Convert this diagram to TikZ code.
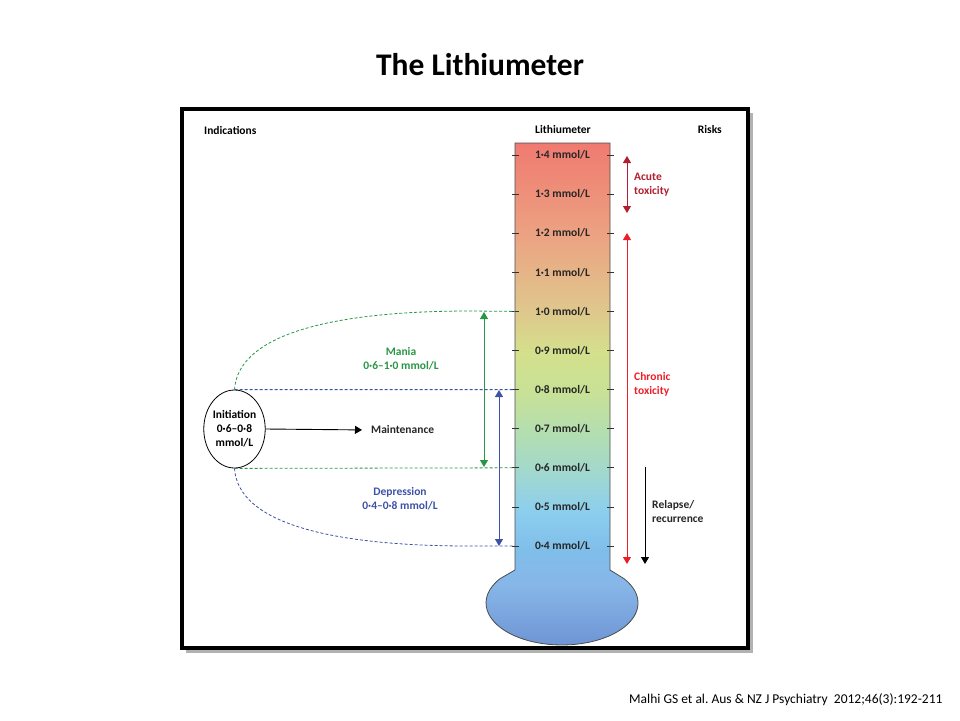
\documentclass[tikz,border=0pt]{standalone}
\usepackage{fontspec}
\setmainfont{Carlito}
\usetikzlibrary{arrows.meta,shapes.geometric}

\definecolor{bulbbot}{RGB}{108,146,210}
\definecolor{bulbtop}{RGB}{135,182,232}
\definecolor{lvA}{RGB}{128,190,234}
\definecolor{lvB}{RGB}{140,206,238}
\definecolor{lvC}{RGB}{162,216,205}
\definecolor{lvD}{RGB}{180,222,175}
\definecolor{lvE}{RGB}{200,225,150}
\definecolor{lvF}{RGB}{212,224,140}
\definecolor{lvG}{RGB}{222,200,140}
\definecolor{lvH}{RGB}{236,162,130}
\definecolor{lvI}{RGB}{240,122,112}
\definecolor{maniagreen}{RGB}{40,150,70}
\definecolor{deprblue}{RGB}{62,82,165}
\definecolor{acutered}{RGB}{178,30,45}
\definecolor{chronred}{RGB}{235,30,40}
\pgfdeclareverticalshading{lithshade}{100bp}{
  color(0bp)=(bulbbot); color(25bp)=(bulbbot); color(31.5bp)=(bulbtop);
  color(34.9bp)=(lvA); color(38.7bp)=(lvB); color(42.7bp)=(lvC);
  color(46.6bp)=(lvD); color(50.5bp)=(lvE); color(54.4bp)=(lvF);
  color(58.3bp)=(lvG); color(66bp)=(lvH); color(75bp)=(lvI); color(100bp)=(lvI)}

\begin{document}
\begin{tikzpicture}[x=1pt, y=-1pt,
  lab/.style={font=\fontsize{11.5}{14}\selectfont\bfseries, text=black!85, inner sep=1pt},
  head/.style={font=\fontsize{11.5}{14}\selectfont\bfseries, inner sep=1pt},
  dashgreen/.style={maniagreen, line width=0.8pt, dash pattern=on 3pt off 2pt},
  dashblue/.style={deprblue, line width=0.8pt, dash pattern=on 3pt off 2pt},
  span/.style={line width=0.9pt, {Triangle[length=7pt,width=8pt]}-{Triangle[length=7pt,width=8pt]}},
  down/.style={line width=0.9pt, -{Triangle[length=7pt,width=8pt]}}]
\useasboundingbox (0,0) rectangle (960,720);
% ---- slide title and source ----
\node[font=\fontsize{31.5}{36}\selectfont\bfseries] (title) at (480,65) {The Lithiumeter};
\node[font=\fontsize{13.5}{16}\selectfont, anchor=east] (cite) at (946,700)
  {Malhi GS et al.\ Aus \& NZ J Psychiatry\ \ 2012;46(3):192-211};
% ---- frame with shadow ----
\draw[black!30, line width=3pt] (751,113) |- (186,651);
\draw[line width=3.5pt] (182,109) rectangle (748,648);
% ---- column heads ----
\node[head, anchor=west] (hind) at (203,130) {Indications};
\node[head] (hlith) at (563,130) {Lithiumeter};
\node[head, anchor=east] (hrisk) at (723,130) {Risks};
% ---- the lithiumeter: tube + bulb ----
\path[shading=lithshade, draw=black!70, line width=0.8pt]
  (515,143) -- (515,570) -- (500,578.7)
  arc[start angle=215.3, end angle=-35.3, x radius=76, y radius=42]
  -- (610,570) -- (610,143) -- cycle;
\foreach \lv [count=\i from 0] in {1·4,1·3,1·2,1·1,1·0,0·9,0·8,0·7,0·6,0·5,0·4} {
  \node[lab] (v\i) at (562.5,155+39.1*\i) {\lv\ mmol/L};
  \coordinate (L\i) at (515,155+39.1*\i);
  \draw[black!80, line width=0.7pt] (512,155+39.1*\i) -- (519,155+39.1*\i);
  \draw[black!80, line width=0.7pt] (607,155+39.1*\i) -- (614,155+39.1*\i);
}
% ---- indications (left) ----
\node[ellipse, draw, line width=0.8pt, minimum width=61, minimum height=78, inner sep=0pt,
  align=center, font=\fontsize{11.5}{14}\selectfont\bfseries] (init) at (234.5,429)
  {Initiation\\0·6–0·8\\mmol/L};
\node[lab, anchor=west] (maint) at (370,430) {Maintenance};
\draw[down, shorten >=8pt] (init.east) -- (maint.west);
\draw[dashgreen] (init.north) .. controls (238,335) and (330,311) .. (470,311) -- (L4);
\draw[dashblue]  (init.north) -- (L6);
\draw[dashgreen] (init.south) -- (L8);
\draw[dashblue]  (init.south) .. controls (238,523) and (330,546) .. (470,546) -- (L10);
\coordinate (mtop) at (484,312);
\coordinate (mbot) at (484,467);
\draw[span, maniagreen] (mtop) -- (mbot);
\coordinate (dtop) at (499,390);
\coordinate (dbot) at (499,546);
\draw[span, deprblue] (dtop) -- (dbot);
\node[lab, text=maniagreen, align=center] (mania) at (401,359) {Mania\\0·6–1·0 mmol/L};
\node[lab, text=deprblue, align=center] (depr) at (400,499) {Depression\\0·4–0·8 mmol/L};
% ---- risks (right) ----
\coordinate (atop) at (627,156);
\coordinate (abot) at (627,213);
\draw[span, acutered] (atop) -- (abot);
\node[lab, text=acutered, anchor=west, align=left] (acute) at (633,185) {Acute\\toxicity};
\coordinate (ctop) at (627,233);
\coordinate (cbot) at (627,564);
\draw[span, chronred] (ctop) -- (cbot);
\node[lab, text=chronred, anchor=west, align=left] (chron) at (633,384) {Chronic\\toxicity};
\coordinate (rtop) at (645,467);
\coordinate (rbot) at (645,564);
\draw[down] (rtop) -- (rbot);
\node[lab, anchor=west, align=left] (relap) at (651,511) {Relapse/\\recurrence};
\end{tikzpicture}
\end{document}
